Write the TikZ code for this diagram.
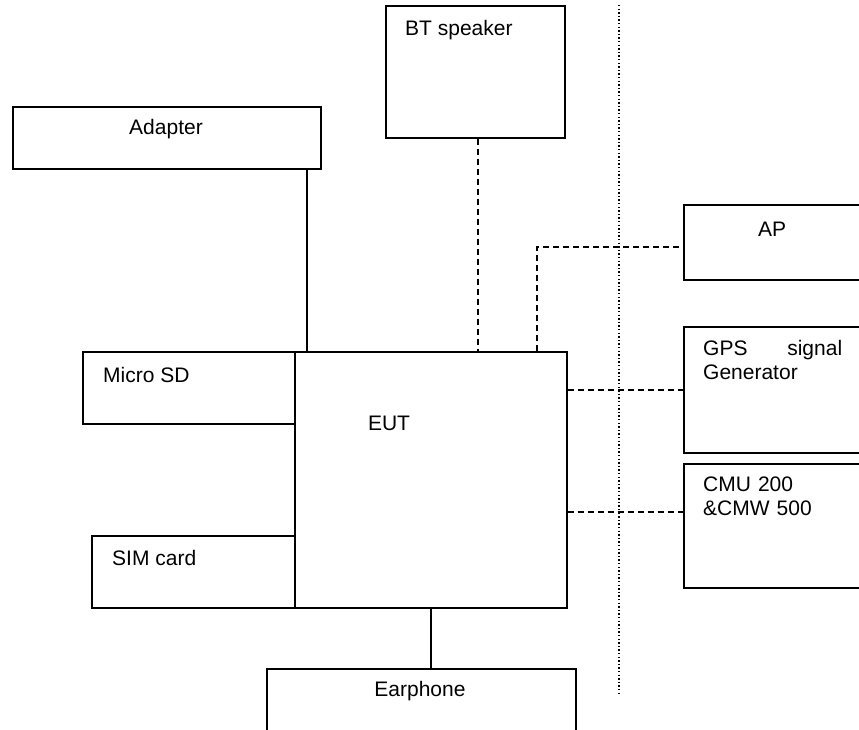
\documentclass[tikz,border=0pt]{standalone}
\usepackage{fontspec}
\setmainfont{Liberation Sans}
\begin{document}
\begin{tikzpicture}[x=1pt,y=-1pt,
  box/.style={draw,line width=1.7pt,rectangle,inner sep=0pt},
  txt/.style={inner sep=0pt,font=\fontsize{21}{24}\selectfont},
  solidline/.style={line width=1.7pt},
  dashline/.style={line width=1.7pt,dash pattern=on 6pt off 4pt},
  dotline/.style={line width=1.4pt,dash pattern=on 1.4pt off 2.2pt}]
\useasboundingbox (0,0) rectangle (859,730);
\begin{scope}
\clip (0,0) rectangle (859,730);
% boxes
\node[box,minimum width=179pt,minimum height=132pt,anchor=north west] (bt) at (385,5) {};
\node[box,minimum width=308pt,minimum height=62pt,anchor=north west] (adapter) at (12,106) {};
\node[box,minimum width=200pt,minimum height=75pt,anchor=north west] (ap) at (683,204) {};
\node[box,minimum width=200pt,minimum height=126pt,anchor=north west] (gps) at (683,326) {};
\node[box,minimum width=200pt,minimum height=124pt,anchor=north west] (cmu) at (683,463) {};
\node[box,minimum width=212pt,minimum height=72pt,anchor=north west] (msd) at (82,351) {};
\node[box,minimum width=203pt,minimum height=72pt,anchor=north west] (sim) at (91,535) {};
\node[box,minimum width=272pt,minimum height=256pt,anchor=north west] (eut) at (294,351) {};
\node[box,minimum width=309pt,minimum height=100pt,anchor=north west] (ear) at (266,668) {};
% texts
\node[txt,anchor=west] (tbt) at (405,30) {BT speaker};
\node[txt] (tadapter) at (166,129) {Adapter};
\node[txt] (tap) at (772,229) {AP};
\node[txt,anchor=north west,text width=139pt,align=left] (tgps) at (703,340) {GPS\hfill signal\\Generator};
\node[txt,anchor=north west,text width=139pt,align=left] (tcmu) at (703,477) {CMU 200\\\&CMW 500};
\node[txt,anchor=west] (tmsd) at (103,375) {Micro SD};
\node[txt] (teut) at (389,423) {EUT};
\node[txt,anchor=west] (tsim) at (112,558) {SIM card};
\node[txt] (tear) at (420,691) {Earphone};
% helper coordinates
\coordinate (xa) at (307,0);
\coordinate (xb) at (478,0);
\coordinate (xp) at (537,0);
\coordinate (yap) at (0,247);
\coordinate (ycmu) at (0,512);
\coordinate (dtop) at (619,5);
\coordinate (dbot) at (619,693);
% connectors
\draw[solidline] (xa |- adapter.south) -- (xa |- eut.north);
\draw[dashline] (xb |- bt.south) -- (xb |- eut.north);
\draw[dashline] (xp |- eut.north) -- (xp |- yap) -- (ap.west |- yap);
\draw[dashline] (eut.east |- gps.west) -- (gps.west);
\draw[dashline] (eut.east |- ycmu) -- (cmu.west |- ycmu);
\draw[solidline] (eut.south) -- (eut.south |- ear.north);
\draw[dotline] (dtop) -- (dbot);
\end{scope}
\end{tikzpicture}
\end{document}
